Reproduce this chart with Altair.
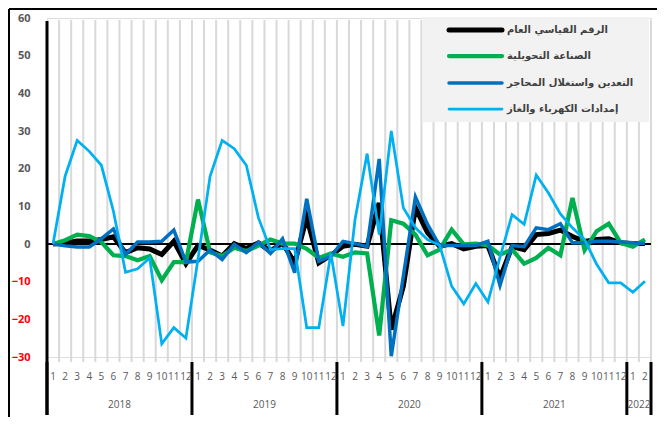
import altair as alt
import pandas as pd

years = ["2018", "2019", "2020", "2021", "2022"]
months_per_year = [12, 12, 12, 12, 2]

series_names = [
    "الرقم القياسي العام",
    "الصناعة التحويلية",
    "التعدين واستغلال المحاجر",
    "إمدادات الكهرباء والغاز",
]
colors = ["#000000", "#00b050", "#0070c0", "#00b0f0"]
widths = [5, 2.75, 2.75, 2.75]

general = [0, 0.3, 0.8, 0.8, 1.2, 1.9, -2.3, -1.0, -1.3, -2.8, 0.7, -5.2,
           -0.4, -1.6, -3.2, 0.1, -1.2, 0.3, -1.9, 0.3, -5.0, 7.0, -5.0, -3.0,
           -0.6, -0.1, -0.6, 10.9, -22.7, -11.2, 9.6, 3.0, -0.6, 0.1, -1.3, -0.6,
           -0.4, -9.0, -0.7, -1.5, 2.5, 2.8, 3.7, 2.0, 0.7, 1.2, 1.4, 0.3,
           0.1, 0.1]
manufacturing = [0, 1.0, 2.5, 2.1, 0.5, -3.0, -3.2, -4.3, -3.2, -9.6, -4.8, -4.8,
                 11.8, -2.2, -3.2, -1.0, -1.9, -0.4, 1.2, 0.1, 0.1, -1.3, -3.7, -2.5,
                 -3.4, -2.2, -2.5, -24.3, 6.3, 5.4, 2.5, -3.0, -1.5, 3.8, -0.1, 0.1,
                 -0.4, -2.8, -1.5, -5.2, -3.7, -1.0, -3.0, 12.2, -1.6, 3.4, 5.4, 0.3,
                 -0.7, 1.2]
mining = [0, -0.5, -0.8, -0.8, 1.4, 4.0, -2.8, 0.5, 0.5, 0.7, 3.7, -4.8,
          -4.6, -1.6, -4.1, -0.1, -2.3, 0.5, -2.5, 1.4, -7.6, 12.0, -4.6, -3.2,
          0.7, 0.1, -0.7, 22.6, -29.8, -8.5, 12.5, 5.2, -0.4, -0.4, -0.4, -0.4,
          0.7, -11.0, -0.4, -0.7, 4.3, 3.8, 5.4, 0.3, 0.3, 0.7, 0.7, 0.5,
          0.3, 0.1]
electricity = [0, 18.0, 27.5, 24.6, 20.9, 8.7, -7.5, -6.6, -3.7, -26.5, -22.2, -25.0,
               -4.0, 18.0, 27.5, 25.3, 20.9, 7.0, -1.5, -1.2, -1.2, -22.2, -22.2, -2.5,
               -21.8, 6.5, 24.0, 2.5, 30.0, 9.6, 4.3, 1.2, -0.3, -11.2, -15.9, -10.5,
               -15.4, -3.5, 7.8, 5.2, 18.3, 13.6, 8.0, 4.3, 1.2, -5.4, -10.3, -10.3,
               -12.8, -9.9]
y_ticks = [-30, -20, -10, 0, 10, 20, 30, 40, 50, 60]

# ---- tables ----
month_rows = []
idx = 0
year_rows = []
sep_rows = [{"b": -0.5}]
for y, n in zip(years, months_per_year):
    start = idx
    for m in range(1, n + 1):
        month_rows.append({"i": idx, "m": str(m)})
        idx += 1
    year_rows.append({"c": (start + idx - 1) / 2, "year": y})
    sep_rows.append({"b": idx - 0.5})
months_df = pd.DataFrame(month_rows)
years_df = pd.DataFrame(year_rows)
sep_df = pd.DataFrame(sep_rows)
grid_df = pd.DataFrame({"b": [k + 0.5 for k in range(idx)]})

all_series = [general, manufacturing, mining, electricity]
rows = []
for name, vals in zip(series_names, all_series):
    for i, v in enumerate(vals):
        rows.append({"i": i, "series": name, "v": v})
df = pd.DataFrame(rows)

W, H = 604, 339
xs = alt.Scale(domain=[-0.5, idx - 0.5], nice=False, zero=False)
ys = alt.Scale(domain=[-30, 60], nice=False)
y_axis = alt.Axis(
    values=y_ticks, domain=False, ticks=False, grid=False, title=None,
    labelFont="Open Sans", labelFontSize=11, labelFontWeight="bold",
    labelPadding=17,
    labelColor=alt.condition("datum.value < 0", alt.value("#ff0000"), alt.value("#595959")))

grid = alt.Chart(grid_df).mark_rule(color="#d9d9d9", strokeWidth=2).encode(
    x=alt.X("b:Q", scale=xs, axis=None),
    y=alt.value(2), y2=alt.value(344))

legend_bg = alt.Chart(pd.DataFrame({"a": [0]})).mark_rect(color="#f2f2f2").encode(
    x=alt.value(375), x2=alt.value(602), y=alt.value(-1), y2=alt.value(104))

zero = alt.Chart(pd.DataFrame({"v": [0]})).mark_rule(color="black", strokeWidth=2).encode(
    y=alt.Y("v:Q", scale=ys, axis=y_axis),
    x=alt.value(0), x2=alt.value(W))

left_axis = alt.Chart(pd.DataFrame({"b": [-0.5]})).mark_rule(color="black", strokeWidth=3).encode(
    x=alt.X("b:Q", scale=xs, axis=None), y=alt.value(3), y2=alt.value(397))

seps = alt.Chart(sep_df).mark_rule(color="black", strokeWidth=3).encode(
    x=alt.X("b:Q", scale=xs, axis=None), y=alt.value(344), y2=alt.value(397))

month_text = alt.Chart(months_df).mark_text(
    font="Open Sans", fontSize=10, color="#595959", baseline="middle").encode(
    x=alt.X("i:Q", scale=xs, axis=None), y=alt.value(359), text="m:N")

year_text = alt.Chart(years_df).mark_text(
    font="Open Sans", fontSize=10, color="#595959", baseline="middle").encode(
    x=alt.X("c:Q", scale=xs, axis=None), y=alt.value(387), text="year:N")

color_enc = alt.Color("series:N", scale=alt.Scale(domain=series_names, range=colors), legend=None)
width_enc = alt.StrokeWidth("series:N", scale=alt.Scale(domain=series_names, range=widths), legend=None)

lines = []
for name in series_names:
    lines.append(alt.Chart(df).transform_filter(alt.datum.series == name).mark_line().encode(
        x=alt.X("i:Q", scale=xs, axis=None),
        y=alt.Y("v:Q", scale=ys, axis=y_axis),
        color=color_enc, strokeWidth=width_enc))

# manual legend
legend_layers = []
entry_y = [12, 38, 65, 91]
for k, name in enumerate(series_names):
    ldf = pd.DataFrame({"series": [name]})
    legend_layers.append(alt.Chart(ldf).mark_rule(strokeCap="round").encode(
        x=alt.value(402), x2=alt.value(455), y=alt.value(entry_y[k]),
        color=color_enc, strokeWidth=width_enc))
    legend_layers.append(alt.Chart(ldf).mark_text(
        align="left", baseline="middle", font="DejaVu Sans", fontSize=10,
        fontWeight="bold", color="#404040").encode(
        x=alt.value(460), y=alt.value(entry_y[k]), text="series:N"))

frame_top = alt.Chart(pd.DataFrame({"a": [0]})).mark_rule(color="black", strokeWidth=2).encode(
    x=alt.value(-38), x2=alt.value(610), y=alt.value(-9))
frame_left = alt.Chart(pd.DataFrame({"a": [0]})).mark_rule(color="black", strokeWidth=2).encode(
    x=alt.value(-38), y=alt.value(-9), y2=alt.value(400))

chart = alt.layer(grid, legend_bg, zero, left_axis, seps, month_text, year_text, *lines,
                  *legend_layers, frame_top, frame_left).properties(
    width=W, height=H,
    autosize=alt.AutoSizeParams(type="none"),
    padding={"left": 39, "top": 10, "right": 6, "bottom": 60},
).configure_view(stroke=None).configure(background="white")

chart.save("out.html", embed_options={"renderer": "svg", "actions": False})
